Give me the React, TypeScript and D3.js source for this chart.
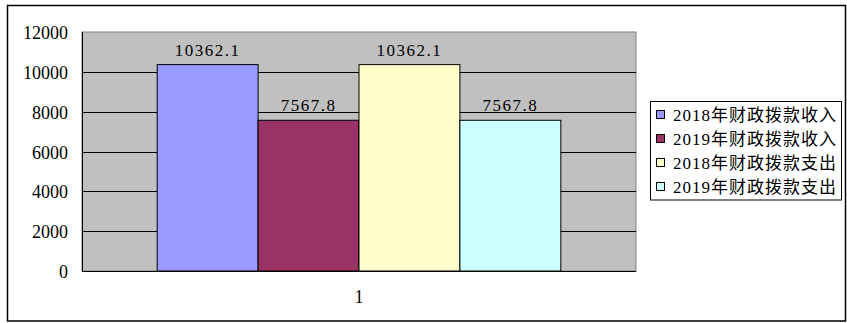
import React from "react";
import * as d3 from "d3";

const categories = ["1"];
const seriesNames = ["2018年财政拨款收入", "2019年财政拨款收入", "2018年财政拨款支出", "2019年财政拨款支出"];
const seriesValues = [10362.1, 7567.8, 10362.1, 7567.8];
const seriesColors = ["#9999FF", "#993366", "#FFFFCC", "#CCFFFF"];
const yTicks = [0, 2000, 4000, 6000, 8000, 10000, 12000];

const W = 847;
const H = 323;
const plot = { left: 82, right: 636, top: 32, bottom: 271 };
const serif = "Liberation Serif";
const cjk = "Liberation Serif, Noto Sans CJK SC";

export default function App() {
  const y = d3.scaleLinear().domain([0, 12000]).range([plot.bottom, plot.top]);
  const x0 = d3.scaleBand().domain(categories).range([plot.left, plot.right]).paddingInner(0).paddingOuter(0);
  const x1 = d3
    .scaleBand()
    .domain(seriesNames)
    .range([0, x0.bandwidth()])
    .paddingOuter(0.745)
    .paddingInner(0);
  const fmt = d3.format(".1f");

  return (
    <svg
      width={W}
      height={H}
      style={{ position: "absolute", left: 0, top: 0, background: "#fff" }}
    >
      <rect x={7.5} y={5.5} width={838} height={315.5} fill="#fff" stroke="#000" strokeWidth={1.5} />
      <rect
        x={plot.left}
        y={plot.top}
        width={plot.right - plot.left}
        height={plot.bottom - plot.top}
        fill="#C0C0C0"
        stroke="#808080"
        strokeWidth={1}
      />
      {yTicks.map((t) => (
        <g key={t}>
          {t > 0 && t < 12000 && (
            <line x1={plot.left} x2={plot.right} y1={Math.round(y(t)) + 0.5} y2={Math.round(y(t)) + 0.5} stroke="#000" />
          )}
          <text
            x={68}
            y={y(t) + 7}
            textAnchor="end"
            style={{ fontFamily: serif, fontSize: 18 }}
            fill="#000"
          >
            {t}
          </text>
        </g>
      ))}
      {categories.map((c) =>
        seriesNames.map((s, i) => {
          const bx = (x0(c) as number) + (x1(s) as number);
          const bw = x1.bandwidth();
          const v = seriesValues[i];
          return (
            <g key={c + s}>
              <rect
                x={bx}
                y={y(v)}
                width={bw}
                height={plot.bottom - y(v)}
                fill={seriesColors[i]}
                stroke="#000"
                strokeWidth={1}
              />
              <text
                x={bx + bw / 2}
                y={y(v) - 9}
                textAnchor="middle"
                style={{ fontFamily: serif, fontSize: 17, letterSpacing: 1.5 }}
                fill="#000"
              >
                {fmt(v)}
              </text>
            </g>
          );
        })
      )}
      <line x1={plot.left + 0.5} x2={plot.left + 0.5} y1={plot.top} y2={plot.bottom} stroke="#000" />
      <line x1={plot.left} x2={plot.right} y1={plot.bottom + 0.5} y2={plot.bottom + 0.5} stroke="#000" />
      {categories.map((c) => (
        <text
          key={c}
          x={(x0(c) as number) + x0.bandwidth() / 2}
          y={303}
          textAnchor="middle"
          style={{ fontFamily: serif, fontSize: 18 }}
          fill="#000"
        >
          {c}
        </text>
      ))}
      <rect x={650.5} y={101.5} width={191} height={98.5} fill="#fff" stroke="#000" strokeWidth={1} />
      {seriesNames.map((s, i) => {
        const cy = 115 + i * 24;
        return (
          <g key={s}>
            <rect x={656.5} y={cy - 4.5} width={8} height={8} fill={seriesColors[i]} stroke="#000" strokeWidth={1} />
            <text
              x={673}
              y={cy + 6}
              style={{ fontFamily: cjk, fontSize: 17, letterSpacing: 1 }}
              fill="#000"
            >
              {s}
            </text>
          </g>
        );
      })}
    </svg>
  );
}
